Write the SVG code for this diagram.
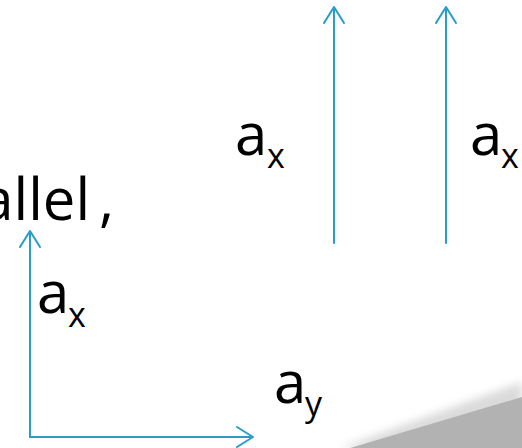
<svg xmlns="http://www.w3.org/2000/svg" width="522" height="448" viewBox="0 0 522 448">
<defs>
<style>
.t{font-family:"Open Sans","Liberation Sans",sans-serif;fill:#000}
.m{font-size:58px}
.s{font-size:34px}
.ar{stroke:#2a9cc8;stroke-width:2;fill:none;stroke-linecap:round;stroke-linejoin:round}
</style>
<filter id="bl" x="-10%" y="-50%" width="120%" height="200%"><feGaussianBlur stdDeviation="4"/></filter>
</defs>
<rect width="522" height="448" fill="#fff"/>
<g id="curl">
<polygon points="340,448 522,382 522,448" fill="#dadada" filter="url(#bl)"/>
<polygon points="350,448 522,397 522,448" fill="#b2b2b2"/>
</g>
<g id="connectors">
<path class="ar" d="M334,243 V7 M324,23 L334,7 L344,23"/>
<path class="ar" d="M446,243 V7 M436,23 L446,7 L456,23"/>
<path class="ar" d="M30,437 V231 M20,247 L30,231 L40,247"/>
<path class="ar" d="M30,437 H253 M237,427 L253,437 L237,447"/>
</g>
<g id="label-top1"><text class="t m" x="235" y="155">a</text><text class="t s" x="267" y="168">x</text></g>
<g id="label-top2"><text class="t m" x="470" y="155">a</text><text class="t s" x="501" y="168">x</text></g>
<g id="label-parallel"><text class="t m" x="-18.7" y="220" word-spacing="-6">allel ,</text></g>
<g id="label-ax"><text class="t m" x="37" y="313">a</text><text class="t s" x="68" y="327">x</text></g>
<g id="label-ay"><text class="t m" x="274" y="403">a</text><text class="t s" x="305" y="416">y</text></g>
</svg>
